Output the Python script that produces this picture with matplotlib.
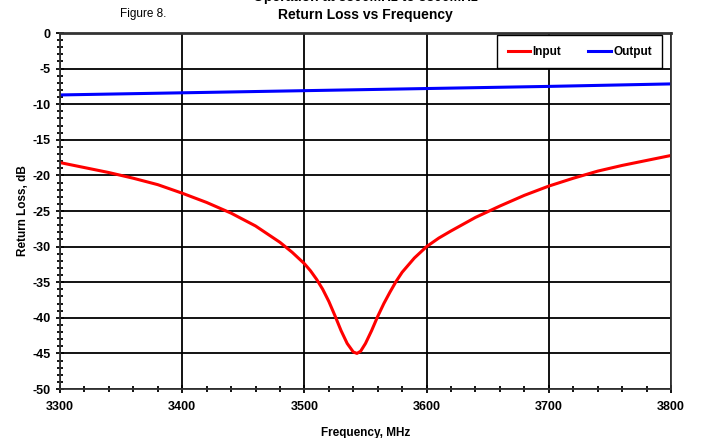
import matplotlib
matplotlib.use("Agg")
import matplotlib.pyplot as plt
from matplotlib.ticker import MultipleLocator

plt.rcParams['font.family'] = ['Liberation Sans', 'DejaVu Sans']
plt.rcParams['axes.unicode_minus'] = False

# Data
freq_in = [3300, 3320, 3340, 3360, 3380, 3400, 3420, 3440, 3460, 3480, 3490, 3500,
           3505, 3510, 3515, 3520, 3525, 3530, 3535, 3540, 3543, 3546, 3550, 3555,
           3560, 3565, 3570, 3575, 3580, 3590, 3600, 3610,
           3620, 3640, 3660, 3680, 3700, 3720, 3740, 3760, 3780, 3800]
rl_input = [-18.2, -18.9, -19.6, -20.4, -21.3, -22.5, -23.8, -25.3, -27.1, -29.4, -30.8, -32.4,
            -33.4, -34.6, -36.0, -37.7, -39.7, -41.8, -43.6, -44.8, -45.0, -44.7, -43.6, -41.8,
            -39.8, -38.0, -36.4, -34.9, -33.6, -31.6, -30.0, -28.8,
            -27.8, -25.9, -24.3, -22.8, -21.5, -20.4, -19.4, -18.6, -17.9, -17.2]
freq_out = [3300, 3400, 3500, 3600, 3700, 3800]
rl_output = [-8.7, -8.4, -8.1, -7.8, -7.5, -7.15]

fig = plt.figure(figsize=(7.01, 4.38), dpi=100)
ax = fig.add_axes([60/701, 1-389/438, 611/701, 356/438])

ax.plot(freq_in, rl_input, color='#ff0000', lw=2.2, label='Input',
        solid_joinstyle='round')
ax.plot(freq_out, rl_output, color='#0000ff', lw=2.2, label='Output')

ax.set_xlim(3300, 3800)
ax.set_ylim(-50, 0)
ax.xaxis.set_major_locator(MultipleLocator(100))
ax.xaxis.set_minor_locator(MultipleLocator(20))
ax.yaxis.set_major_locator(MultipleLocator(5))
ax.yaxis.set_minor_locator(MultipleLocator(1))
ax.grid(True, which='major', color='black', lw=1.3)
ax.set_axisbelow(True)

ax.tick_params(which='major', direction='inout', length=6, width=1.3, labelsize=9)
ax.tick_params(which='minor', direction='inout', length=4, width=1.3)
for lab in ax.get_xticklabels() + ax.get_yticklabels():
    lab.set_fontweight('bold')
ax.tick_params(axis='x', pad=6)

for s in ax.spines.values():
    s.set_color('#333333')
    s.set_linewidth(1.3)
ax.spines['top'].set_linewidth(2)

ax.set_xlabel('Frequency, MHz', fontsize=8.5, fontweight='bold', labelpad=10)
ax.set_ylabel('Return Loss, dB', fontsize=8.5, fontweight='bold', labelpad=3)

leg = ax.legend(loc='upper right', ncol=2, bbox_to_anchor=(0.986, 0.994),
                borderaxespad=0.0,
                fancybox=False, framealpha=1, edgecolor='black',
                prop={'weight': 'bold', 'size': 8.5}, handlelength=1.9,
                handletextpad=0.2, columnspacing=2.3, borderpad=0.9)
leg.get_frame().set_linewidth(1.0)

fig.text(0.521, 1 - 4/438, 'Operation at 3300MHz to 3800MHz', ha='center',
         va='bottom', fontsize=10, fontweight='bold')
fig.text(0.521, 1 - 15/438, 'Return Loss vs Frequency', ha='center',
         va='center', fontsize=10, fontweight='bold')
fig.text(120/701, 1 - 14/438, 'Figure 8.', ha='left', va='center', fontsize=8.5)

fig.savefig('out.png', dpi=100)
